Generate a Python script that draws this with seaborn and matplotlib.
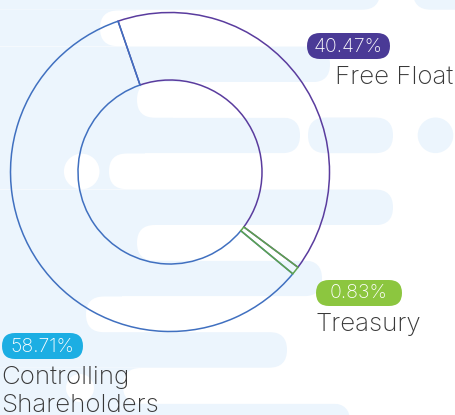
import matplotlib
matplotlib.use("Agg")
import matplotlib.pyplot as plt
import seaborn as sns
from matplotlib.patches import FancyBboxPatch, Circle, Rectangle

# ---- data ----
categories = ["Free Float", "Treasury", "Controlling\nShareholders"]
shares = [40.47, 0.83, 58.71]
pct_labels = ["40.47%", "0.83%", "58.71%"]
edge_colors = ["#5a3c9e", "#5ea34e", "#4070c0"]
badge_colors = ["#4a3a96", "#8cc63f", "#1caee3"]

sns.set_theme(style="white")
plt.rcParams['font.family'] = ['Inter', 'Lato', 'DejaVu Sans']

W, H = 456, 415
LIGHT = "#ecf5fd"
TEXT = "#383838"


def Y(y):
    return H - y


fig = plt.figure(figsize=(4.56, 4.15), dpi=100)
fig.patch.set_facecolor("white")
ax = fig.add_axes([0, 0, 1, 1])
ax.set_axis_off()


def pill(x0, x1, top, h, color):
    ax.add_patch(FancyBboxPatch((x0, Y(top + h)), x1 - x0, h,
                                boxstyle=f"round,pad=0,rounding_size={h / 2}",
                                fc=color, ec="none", zorder=0))


RH = 35.7
# light rows: (top, end x)
for top, xe in [(-26, 380), (46.5, 330), (117.5, 300), (189.5, 393),
                (260.5, 322), (332, 287), (403.5, 350)]:
    pill(-60, xe, top, RH, LIGHT)
# white rows: (top, start x)
for top, xs in [(10.5, 100), (82, 137), (153.5, 109), (225, 137),
                (296.5, 86), (368, 123)]:
    ax.add_patch(Rectangle((0, Y(top + RH)), xs + RH, RH, fc=LIGHT, ec="none", zorder=0))
    pill(xs, 560, top, RH, "white")
pill(413, 560, -26, RH, LIGHT)
pill(308, 393, 117.5, RH, LIGHT)
ax.add_patch(Circle((435.5, Y(135.3)), 17.8, fc=LIGHT, ec="none", zorder=0))
ax.add_patch(Circle((81.7, Y(171.5)), 17.8, fc="white", ec="none", zorder=0))
ax.add_patch(Circle((80, Y(388)), 14, fc="white", ec="none", zorder=0))

# ---- donut ----
wedges, _ = ax.pie(shares, startangle=109, counterclock=False, radius=159.5,
                   center=(170, Y(172)), colors=badge_colors,
                   wedgeprops=dict(width=67.5, linewidth=1.1))
for i, (w, ec) in enumerate(zip(wedges, edge_colors)):
    w.set_facecolor("none")
    w.set_edgecolor(ec)
    w.set_zorder(2.5 if i == 1 else 2)

ax.set_xlim(0, W)
ax.set_ylim(0, H)
ax.set_aspect("equal")
ax.set_axis_off()

# ---- badges & labels ----
badges = [(307, 390, 33, 59), (316, 402, 280, 306), (2, 83, 333, 359)]
label_pos = [(335.5, 83.5), (315.5, 330.5), (1, 411.5)]
for (x0, x1, t, b), col, pct, cat, (lx, ly) in zip(badges, badge_colors, pct_labels,
                                                  categories, label_pos):
    h = b - t
    ax.add_patch(FancyBboxPatch((x0, Y(b)), x1 - x0, h,
                                boxstyle=f"round,pad=0,rounding_size={h / 2}",
                                fc=col, ec="none", zorder=3))
    ax.text((x0 + x1) / 2, Y((t + b) / 2) - 0.5, pct, color="white", fontsize=14,
            fontweight="light", ha="center", va="center", zorder=4)
    ax.text(lx, Y(ly), cat, color=TEXT, fontsize=18.7, fontweight="light",
            ha="left", va="baseline", linespacing=1.26, zorder=4)

fig.savefig("out.png", dpi=100, facecolor="white")
